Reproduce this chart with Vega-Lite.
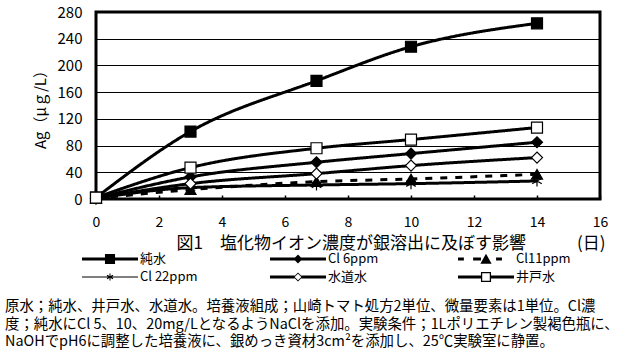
{
  "$schema": "https://vega.github.io/schema/vega-lite/v6.json",
  "width": 504,
  "height": 187,
  "autosize": {"type": "none"},
  "padding": {"left": 96, "top": 12, "right": 25, "bottom": 158},
  "background": "white",
  "config": {
    "view": {"stroke": "black", "strokeWidth": 3},
    "font": "Noto Sans CJK JP"
  },
  "title": {
    "text": [
      "原水；純水、井戸水、水道水。培養液組成；山崎トマト処方2単位、微量要素は1単位。Cl濃",
      "度；純水にCl 5、10、20mg/LとなるようNaClを添加。実験条件；1Lポリエチレン製褐色瓶に、",
      "NaOHでpH6に調整した培養液に、銀めっき資材3cm²を添加し、25℃実験室に静置。"
    ],
    "orient": "bottom",
    "anchor": "start",
    "frame": "group",
    "dx": -91,
    "offset": 16,
    "font": "Noto Sans CJK JP",
    "fontSize": 14.4,
    "fontWeight": "normal",
    "color": "black",
    "lineHeight": 17.5
  },
  "data": {
    "values": [
      {"day": 0, "ag": 2, "series": "純水"},
      {"day": 3, "ag": 101, "series": "純水"},
      {"day": 7, "ag": 177, "series": "純水"},
      {"day": 10, "ag": 228, "series": "純水"},
      {"day": 14, "ag": 263, "series": "純水"},
      {"day": 0, "ag": 1, "series": "Cl 6ppm"},
      {"day": 3, "ag": 33, "series": "Cl 6ppm"},
      {"day": 7, "ag": 55, "series": "Cl 6ppm"},
      {"day": 10, "ag": 68, "series": "Cl 6ppm"},
      {"day": 14, "ag": 85, "series": "Cl 6ppm"},
      {"day": 0, "ag": 1, "series": "Cl11ppm"},
      {"day": 3, "ag": 14, "series": "Cl11ppm"},
      {"day": 7, "ag": 26, "series": "Cl11ppm"},
      {"day": 10, "ag": 30, "series": "Cl11ppm"},
      {"day": 14, "ag": 37, "series": "Cl11ppm"},
      {"day": 0, "ag": 1, "series": "Cl 22ppm"},
      {"day": 3, "ag": 17, "series": "Cl 22ppm"},
      {"day": 7, "ag": 21, "series": "Cl 22ppm"},
      {"day": 10, "ag": 23, "series": "Cl 22ppm"},
      {"day": 14, "ag": 27, "series": "Cl 22ppm"},
      {"day": 0, "ag": 1, "series": "水道水"},
      {"day": 3, "ag": 23, "series": "水道水"},
      {"day": 7, "ag": 38, "series": "水道水"},
      {"day": 10, "ag": 50, "series": "水道水"},
      {"day": 14, "ag": 62, "series": "水道水"},
      {"day": 0, "ag": 2, "series": "井戸水"},
      {"day": 3, "ag": 47, "series": "井戸水"},
      {"day": 7, "ag": 76, "series": "井戸水"},
      {"day": 10, "ag": 89, "series": "井戸水"},
      {"day": 14, "ag": 107, "series": "井戸水"}
    ]
  },
  "encoding": {
    "x": {
      "field": "day",
      "type": "quantitative",
      "scale": {"domain": [0, 16], "nice": false},
      "axis": {
        "values": [0, 2, 4, 6, 8, 10, 12, 14, 16],
        "title": "図1　塩化物イオン濃度が銀溶出に及ぼす影響　　　(日)",
        "titleX": 509,
        "titleY": 44,
        "titleAlign": "right",
        "titleBaseline": "middle",
        "titleFont": "Noto Sans CJK JP",
        "titleFontSize": 17,
        "titleFontWeight": "normal",
        "titleColor": "black",
        "grid": false,
        "domain": false,
        "ticks": true,
        "tickSize": -4,
        "tickWidth": 1.5,
        "tickColor": "black",
        "labelPadding": 20,
        "labelFontSize": 14,
        "labelColor": "black",
        "labelFlush": false
      }
    },
    "y": {
      "field": "ag",
      "type": "quantitative",
      "scale": {"domain": [0, 280], "nice": false},
      "axis": {
        "values": [0, 40, 80, 120, 160, 200, 240, 280],
        "title": "Ag（μｇ/L）",
        "titleX": -56,
        "titleY": 93.5,
        "titleAngle": -90,
        "titleAlign": "center",
        "titleBaseline": "middle",
        "titleFont": "Noto Sans CJK JP",
        "titleFontSize": 15,
        "titleFontWeight": "normal",
        "titleColor": "black",
        "grid": true,
        "gridColor": "black",
        "gridWidth": 1,
        "gridOpacity": 1,
        "domain": false,
        "ticks": false,
        "labelPadding": 14,
        "labelFontSize": 15,
        "labelColor": "black"
      }
    }
  },
  "layer": [
    {
      "mark": {"type": "line", "interpolate": "monotone", "color": "black"},
      "encoding": {
        "detail": {"field": "series", "type": "nominal"},
        "strokeDash": {
          "field": "series",
          "type": "nominal",
          "scale": {
            "domain": ["純水", "Cl 6ppm", "Cl11ppm", "Cl 22ppm", "水道水", "井戸水"],
            "range": [[1, 0], [1, 0], [7, 8], [1, 0], [1, 0], [1, 0]]
          },
          "legend": null
        },
        "strokeWidth": {
          "field": "series",
          "type": "nominal",
          "scale": {
            "domain": ["純水", "Cl 6ppm", "Cl11ppm", "Cl 22ppm", "水道水", "井戸水"],
            "range": [3, 3, 3.5, 1, 3, 3]
          },
          "legend": null
        }
      }
    },
    {
      "mark": {"type": "point", "stroke": "black", "strokeWidth": 1.2, "opacity": 1, "size": 121},
      "encoding": {
        "shape": {
          "field": "series",
          "type": "nominal",
          "scale": {
            "domain": ["純水", "Cl 6ppm", "Cl11ppm", "Cl 22ppm", "水道水", "井戸水"],
            "range": ["square", "diamond", "triangle-up", "M0,-1V1M-0.87,-0.5L0.87,0.5M-0.87,0.5L0.87,-0.5", "diamond", "square"]
          },
          "legend": null
        },
        "fill": {
          "field": "series",
          "type": "nominal",
          "scale": {
            "domain": ["純水", "Cl 6ppm", "Cl11ppm", "Cl 22ppm", "水道水", "井戸水"],
            "range": ["black", "black", "black", "black", "white", "white"]
          },
          "legend": null
        }
      }
    },
    {
      "mark": {"type": "point", "filled": true, "color": "black", "opacity": 0},
      "encoding": {
        "shape": {
          "field": "series",
          "type": "nominal",
          "scale": {
            "domain": ["純水", "Cl 6ppm", "Cl11ppm", "Cl 22ppm", "水道水", "井戸水"],
            "range": [
              "M-4,-0.216H4V0.216H-4Z M-0.72,-0.72H0.72V0.72H-0.72Z",
              "M-4,-0.216H4V0.216H-4Z M-0.64,0L0,-0.64L0.64,0L0,0.64Z",
              "M-4,-0.216H-3.16V0.216H-4Z M-1.84,-0.216H-0.72V0.216H-1.84Z M1.44,-0.216H2.28V0.216H1.44Z M0,-0.76L0.8,0.68H-0.8Z",
              "M-4,-0.072H4V0.072H-4Z M-0.072,-0.5H0.072V0.5H-0.072Z M-0.468,-0.188L-0.396,-0.312L0.468,0.188L0.396,0.312Z M-0.396,0.312L-0.468,0.188L0.396,-0.312L0.468,-0.188Z",
              "M-4,-0.216H-0.48V0.216H-4Z M0.48,-0.216H4V0.216H0.48Z M-0.64,0L0,-0.64L0.64,0L0,0.64Z M-0.48,0L0,0.48L0.48,0L0,-0.48Z",
              "M-4,-0.216H-0.72V0.216H-4Z M0.72,-0.216H4V0.216H0.72Z M-0.72,-0.72H0.72V0.72H-0.72Z M-0.54,-0.54V0.54H0.54V-0.54Z"
            ]
          },
          "legend": {
            "orient": "none",
            "direction": "horizontal",
            "legendX": 7,
            "legendY": 240,
            "columns": 3,
            "title": null,
            "symbolSize": 196,
            "gridAlign": "all",
            "columnPadding": 72,
            "rowPadding": 4,
            "labelFont": "Noto Sans CJK JP",
            "labelFontSize": 13,
            "labelColor": "black",
            "labelOffset": 23,
            "symbolStrokeWidth": 0,
            "symbolFillColor": "black",
            "symbolOpacity": 1,
            "encode": {
              "symbols": {
                "update": {
                  "opacity": {"value": 1},
                  "fill": {"value": "black"},
                  "fillOpacity": {"value": 1},
                  "strokeWidth": {"value": 0}
                }
              }
            }
          }
        }
      }
    }
  ],
  "resolve": {"scale": {"shape": "independent"}, "legend": {"shape": "independent"}}
}
